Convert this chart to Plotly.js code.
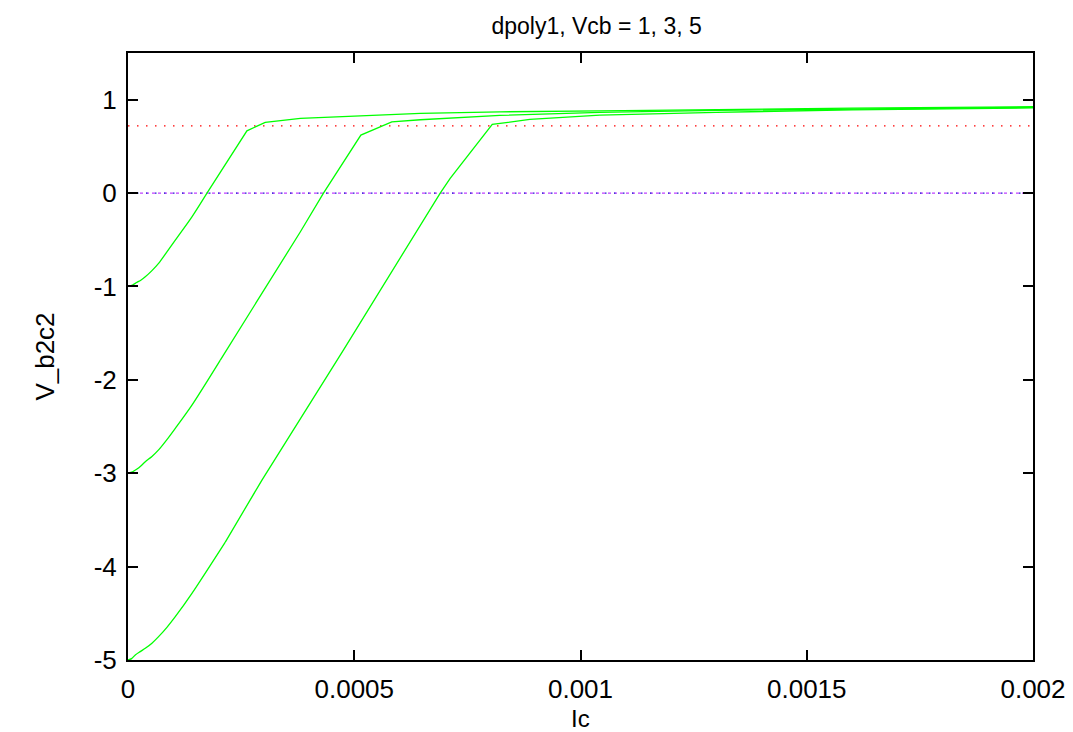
<!DOCTYPE html>
<html>
<head>
<meta charset="utf-8">
<script src="https://cdn.plot.ly/plotly-3.0.1.min.js"></script>
<style>html,body{margin:0;padding:0;background:#fff;}#chart{width:1073px;height:732px;}</style>
</head>
<body>
<div id="chart"></div>
<script>
// Vcb = 1
const ic1 = [0, 0.000010, 0.0000191, 0.000029, 0.0000382, 0.0000529, 0.0000676, 0.000086, 0.0001045, 0.0001413, 0.0001745, 0.0002628, 0.0003032, 0.000381, 0.000646, 0.000822, 0.001043, 0.0013, 0.0016, 0.002];
const v1  = [-1, -0.985, -0.958, -0.93, -0.896, -0.83, -0.753, -0.63, -0.503, -0.254, 0, 0.667, 0.757, 0.80, 0.853, 0.870, 0.881, 0.897, 0.910, 0.925];
// Vcb = 3
const ic3 = [0, 0.000010, 0.0000191, 0.000029, 0.0000382, 0.0000529, 0.0000676, 0.000086, 0.0001045, 0.0001413, 0.000204, 0.000381, 0.000432, 0.0005146, 0.000583, 0.000646, 0.000822, 0.001043, 0.0013, 0.0016, 0.002];
const v3  = [-3, -2.985, -2.958, -2.92, -2.877, -2.82, -2.75, -2.64, -2.519, -2.27, -1.788, -0.414, 0, 0.621, 0.763, 0.785, 0.832, 0.864, 0.885, 0.900, 0.918];
// Vcb = 5
const ic5 = [0, 0.0000080, 0.0000161, 0.000027, 0.0000382, 0.0000529, 0.0000676, 0.000086, 0.0001045, 0.0001413, 0.000215, 0.000296, 0.000476, 0.00069, 0.000712, 0.000805, 0.000888, 0.001043, 0.0013, 0.0016, 0.002];
const v5  = [-5, -4.985, -4.946, -4.91, -4.875, -4.82, -4.75, -4.65, -4.536, -4.286, -3.737, -3.073, -1.681, 0, 0.157, 0.735, 0.789, 0.835, 0.865, 0.890, 0.912];
// index where each curve's smooth start ends and the straight pieces begin
const smoothEnd = [10, 10, 10];
// reference levels
const refX = [0, 0.002];
const refRed = [0.72, 0.72];
const refZero = [0, 0];

const xTicks = [0, 0.0005, 0.001, 0.0015, 0.002];
const xTickText = ["0", "0.0005", "0.001", "0.0015", "0.002"];
const yTicks = [-5, -4, -3, -2, -1, 0, 1];
const yTickText = ["-5", "-4", "-3", "-2", "-1", "0", "1"];

const FONT = '"Liberation Sans", Arial, sans-serif';
const green = {color: '#00ff00', width: 1.3};

const traces = [
  {x: refX, y: refRed, mode: 'lines', line: {color: '#ff0000', width: 1.2, dash: '1.5px,7.5px'}, hoverinfo: 'skip'},
  {x: refX, y: refZero, mode: 'lines', line: {color: '#c040ff', width: 1.2, dash: '3px,3px'}, hoverinfo: 'skip'},
  {x: refX, y: refZero, mode: 'lines', line: {color: '#2020d0', width: 1.3, dash: '1.5px,7.5px'}, hoverinfo: 'skip'}
];
[[ic1, v1], [ic3, v3], [ic5, v5]].forEach(([xs, ys], i) => {
  const k = smoothEnd[i];
  traces.push({x: xs.slice(0, k + 1), y: ys.slice(0, k + 1), mode: 'lines', line: Object.assign({shape: 'spline', smoothing: 0.8}, green)});
  traces.push({x: xs.slice(k), y: ys.slice(k), mode: 'lines', line: green});
});

const layout = {
  width: 1073, height: 732,
  margin: {l: 128, r: 40, t: 53, b: 72},
  paper_bgcolor: '#fff', plot_bgcolor: '#fff',
  showlegend: false,
  font: {family: FONT, size: 24, color: '#000'},
  title: {text: 'dpoly1, Vcb = 1, 3, 5', x: 0.556, xanchor: 'center', y: 0.965, yanchor: 'middle', font: {family: FONT, size: 23, color: '#000'}},
  xaxis: {
    range: [0, 0.002], tickvals: xTicks, ticktext: xTickText,
    ticks: 'inside', ticklen: 10, tickwidth: 2, tickcolor: '#000',
    showline: true, linewidth: 2, linecolor: '#000', mirror: 'ticks',
    showgrid: false, zeroline: false,
    ticklabelstandoff: 5,
    tickfont: {family: FONT, size: 26}
  },
  yaxis: {
    range: [-5, 1.5], tickvals: yTicks, ticktext: yTickText,
    ticks: 'inside', ticklen: 10, tickwidth: 2, tickcolor: '#000',
    showline: true, linewidth: 2, linecolor: '#000', mirror: 'ticks',
    showgrid: false, zeroline: false,
    ticklabelstandoff: 4,
    tickfont: {family: FONT, size: 26},
    title: {text: 'V_b2c2', font: {family: FONT, size: 26}, standoff: 32}
  },
  annotations: [
    {text: 'Ic', xref: 'paper', yref: 'paper', x: 0.5, y: 0, yshift: -58, xanchor: 'center', yanchor: 'middle', showarrow: false, font: {family: FONT, size: 24, color: '#000'}}
  ]
};

Plotly.newPlot('chart', traces, layout, {staticPlot: true, displayModeBar: false});
</script>
</body>
</html>
